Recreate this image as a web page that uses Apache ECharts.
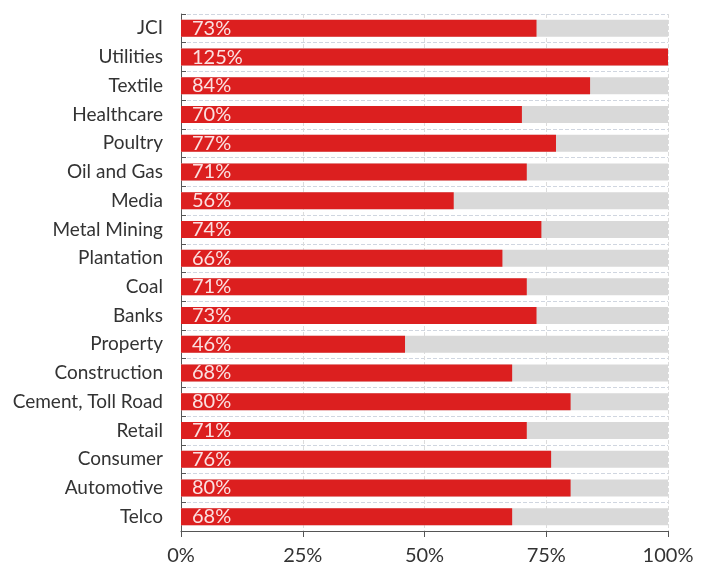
<!DOCTYPE html>
<html><head><meta charset="utf-8">
<script src="https://cdn.jsdelivr.net/npm/echarts@6/dist/echarts.min.js"></script>
<style>html,body{margin:0;padding:0;background:#fff}#c{width:708px;height:567px}</style>
</head><body><div id="c"></div>
<script>
const categories = ["JCI","Utilities","Textile","Healthcare","Poultry","Oil and Gas","Media","Metal Mining","Plantation","Coal","Banks","Property","Construction","Cement, Toll Road","Retail","Consumer","Automotive","Telco"];
const values = [73,125,84,70,77,71,56,74,66,71,73,46,68,80,71,76,80,68];
const xTicks = [0,25,50,75,100];

const font = "Lato, 'Open Sans', sans-serif";
const chart = echarts.init(document.getElementById('c'));
chart.setOption({
  animation:false,
  grid:{left:181,right:40,top:14,bottom:36},
  xAxis:{type:'value',min:xTicks[0],max:xTicks[xTicks.length-1],interval:25,
    axisLine:{show:true,lineStyle:{color:'#555',width:1}},
    axisTick:{show:true,length:6,lineStyle:{color:'#555'}},
    axisLabel:{formatter:'{value}%',fontSize:20,color:'#333',fontFamily:font,margin:15},
    splitLine:{show:true,lineStyle:{color:'#dcdcdc',type:'dashed',width:1}}},
  yAxis:{type:'category',data:categories,inverse:true,
    axisLine:{show:true,lineStyle:{color:'#555'}},
    axisTick:{show:true,inside:true,length:5,lineStyle:{color:'#555'}},
    axisLabel:{fontSize:19,color:'#333',fontFamily:font,margin:18},
    splitLine:{show:true,lineStyle:{color:'#d0d6e0',type:'dashed',width:1}}},
  series:[{type:'bar',barWidth:17,
    data:values.map(v=>({value:Math.min(v,100),raw:v})),
    itemStyle:{color:'#dc1f1f'},
    showBackground:true,backgroundStyle:{color:'#d9d9d9'},
    label:{show:true,position:'insideLeft',distance:11,color:'#fbe0e0',fontSize:20,fontFamily:font,
      formatter:p=>values[p.dataIndex]+'%'}}]
});
</script></body></html>
